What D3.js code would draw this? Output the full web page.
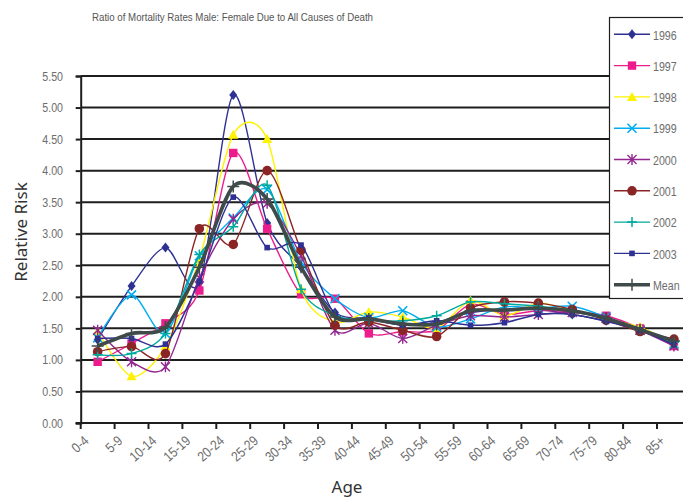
<!DOCTYPE html>
<html>
<head>
<meta charset="utf-8">
<script src="https://cdn.jsdelivr.net/npm/d3@7"></script>
<style>
  body { margin: 0; background: #fff; }
  svg { display: block; }
  .lbl { font-family: "Liberation Sans", sans-serif; font-size: 13px; fill: #6d6d6d; }
  .xlbl { font-family: "Liberation Sans", sans-serif; font-size: 14px; fill: #6d6d6d; }
</style>
</head>
<body>
<div id="chart"></div>
<script>
// age groups on the x axis
var ages = ["0-4", "5-9", "10-14", "15-19", "20-24", "25-29", "30-34", "35-39", "40-44",
            "45-49", "50-54", "55-59", "60-64", "65-69", "70-74", "75-79", "80-84", "85+"];

// ratio male:female
var r1996 = [1.32, 2.17, 2.78, 2.22, 5.20, 3.17, 2.47, 1.75, 1.65, 1.55, 1.60, 1.75, 1.80, 1.80, 1.72, 1.62, 1.48, 1.26];
var r1997 = [0.97, 1.26, 1.58, 2.10, 4.28, 3.08, 2.04, 1.97, 1.42, 1.45, 1.47, 1.88, 1.72, 1.78, 1.76, 1.70, 1.50, 1.22];
var r1998 = [1.45, 0.74, 1.22, 2.60, 4.57, 4.50, 2.12, 1.60, 1.76, 1.68, 1.50, 1.94, 1.70, 1.90, 1.78, 1.65, 1.52, 1.25];
var r1999 = [1.35, 2.03, 1.42, 2.65, 3.25, 3.70, 2.55, 1.97, 1.67, 1.78, 1.52, 1.65, 1.84, 1.82, 1.85, 1.68, 1.47, 1.25];
var r2000 = [1.47, 0.97, 0.89, 2.30, 3.23, 3.48, 2.65, 1.47, 1.58, 1.34, 1.55, 1.70, 1.68, 1.72, 1.75, 1.66, 1.47, 1.22];
var r2001 = [1.13, 1.21, 1.10, 3.08, 2.83, 4.00, 2.74, 1.55, 1.60, 1.47, 1.37, 1.82, 1.92, 1.90, 1.80, 1.63, 1.45, 1.33];
var r2002 = [1.08, 1.10, 1.42, 2.67, 3.11, 3.77, 2.12, 1.70, 1.63, 1.62, 1.70, 1.92, 1.89, 1.85, 1.78, 1.65, 1.48, 1.28];
var r2003 = [1.34, 1.34, 1.25, 2.25, 3.58, 2.78, 2.82, 1.72, 1.67, 1.55, 1.62, 1.55, 1.59, 1.72, 1.72, 1.61, 1.47, 1.24];
var rMean = [1.22, 1.42, 1.52, 2.47, 3.75, 3.55, 2.47, 1.68, 1.65, 1.57, 1.57, 1.78, 1.79, 1.82, 1.78, 1.66, 1.48, 1.30];

var seriesNames = ["1996", "1997", "1998", "1999", "2000", "2001", "2002", "2003", "Mean"];
var yTicks = [0, 0.5, 1, 1.5, 2, 2.5, 3, 3.5, 4, 4.5, 5, 5.5];

var width = 683, height = 497;
var plotLeft = 80.7, plotBottom = 423, plotTop = 76;
var step = 33.9;
var squeeze = 0.82; // condensed look for the small labels

// styles per series
var styles = [
  {color: "#2e3192", marker: "diamond", size: 5, lw: 1.4},
  {color: "#ec1c8c", marker: "square", size: 4.2, lw: 1.4},
  {color: "#fff200", marker: "triangle", size: 5, lw: 1.4},
  {color: "#00aeef", marker: "x", size: 4.5, lw: 1.4},
  {color: "#92278f", marker: "asterisk", size: 4.5, lw: 1.4},
  {color: "#8b2525", marker: "circle", size: 4.8, lw: 1.4},
  {color: "#00a99d", marker: "plus", size: 5, lw: 1.4},
  {color: "#2e3192", marker: "smallsquare", size: 2.8, lw: 1.4},
  {color: "#3f4a4a", marker: "plus", size: 6, lw: 3.6}
];

var data = [r1996, r1997, r1998, r1999, r2000, r2001, r2002, r2003, rMean];

var svg = d3.select("#chart").append("svg")
  .attr("width", width)
  .attr("height", height);

var x = d3.scaleBand()
  .domain(ages)
  .range([plotLeft, plotLeft + step * ages.length]);

var y = d3.scaleLinear()
  .domain([0, 5.5])
  .range([plotBottom, plotTop]);

// gridlines
svg.append("g")
  .selectAll("line")
  .data(yTicks.slice(1))
  .enter().append("line")
  .attr("x1", plotLeft)
  .attr("x2", width)
  .attr("y1", function(d) { return y(d); })
  .attr("y2", function(d) { return y(d); })
  .attr("stroke", "#1e1e1e")
  .attr("stroke-width", 2);

// y axis
var yAxis = svg.append("g")
  .attr("transform", "translate(" + plotLeft + ",0)")
  .call(d3.axisLeft(y).tickValues(yTicks).tickFormat("").tickSize(5));
yAxis.select(".domain").attr("stroke", "#1e1e1e").attr("stroke-width", 2);
yAxis.selectAll(".tick line").attr("stroke", "#1e1e1e").attr("stroke-width", 2);

svg.append("g")
  .selectAll("text")
  .data(yTicks)
  .enter().append("text")
  .attr("class", "lbl")
  .attr("text-anchor", "end")
  .attr("dy", "0.35em")
  .attr("transform", function(d) { return "translate(63," + y(d) + ") scale(" + squeeze + ",1)"; })
  .text(d3.format(".2f"));

// x axis: ticks at category boundaries
var xAxis = svg.append("g");
xAxis.append("line")
  .attr("x1", plotLeft - 5).attr("x2", width)
  .attr("y1", plotBottom).attr("y2", plotBottom)
  .attr("stroke", "#1e1e1e").attr("stroke-width", 2);
xAxis.selectAll("line.tk")
  .data(ages)
  .enter().append("line")
  .attr("class", "tk")
  .attr("x1", function(d) { return x(d); })
  .attr("x2", function(d) { return x(d); })
  .attr("y1", plotBottom).attr("y2", plotBottom + 6)
  .attr("stroke", "#1e1e1e").attr("stroke-width", 2);
xAxis.selectAll("text")
  .data(ages)
  .enter().append("text")
  .attr("class", "xlbl")
  .attr("text-anchor", "end")
  .attr("transform", function(d) {
    return "translate(" + (x(d) + x.bandwidth() / 2 - 8) + "," + 442 + ") rotate(-42) scale(0.85,1)";
  })
  .text(function(d) { return d; });

// marker drawing
function drawMarker(g, type, color, s) {
  if (type == "diamond") {
    g.append("path").attr("d", "M0," + (-s) + "L" + (s * 0.8) + ",0L0," + s + "L" + (-s * 0.8) + ",0Z").attr("fill", color);
  } else if (type == "square" || type == "smallsquare") {
    g.append("rect").attr("x", -s).attr("y", -s).attr("width", 2 * s).attr("height", 2 * s).attr("fill", color);
  } else if (type == "triangle") {
    g.append("path").attr("d", "M0," + (-s) + "L" + s + "," + (s * 0.8) + "L" + (-s) + "," + (s * 0.8) + "Z").attr("fill", color);
  } else if (type == "circle") {
    g.append("circle").attr("r", s).attr("fill", color);
  } else if (type == "x") {
    g.append("path").attr("d", "M" + (-s) + "," + (-s) + "L" + s + "," + s + "M" + (-s) + "," + s + "L" + s + "," + (-s))
      .attr("stroke", color).attr("stroke-width", 1.6).attr("fill", "none");
  } else if (type == "asterisk") {
    g.append("path").attr("d", "M" + (-s) + "," + (-s) + "L" + s + "," + s + "M" + (-s) + "," + s + "L" + s + "," + (-s) + "M0," + (-s * 1.2) + "L0," + (s * 1.2))
      .attr("stroke", color).attr("stroke-width", 1.4).attr("fill", "none");
  } else if (type == "plus") {
    g.append("path").attr("d", "M" + (-s) + ",0L" + s + ",0M0," + (-s) + "L0," + s)
      .attr("stroke", color).attr("stroke-width", 1.5).attr("fill", "none");
  }
}

var line = d3.line()
  .x(function(d, i) { return x(ages[i]) + x.bandwidth() / 2; })
  .y(function(d) { return y(d); })
  .curve(d3.curveCardinal.tension(0.15));

// series
data.forEach(function(values, k) {
  var st = styles[k];
  var g = svg.append("g");
  g.append("path")
    .attr("d", line(values))
    .attr("fill", "none")
    .attr("stroke", st.color)
    .attr("stroke-width", st.lw);
  values.forEach(function(v, i) {
    var m = g.append("g")
      .attr("transform", "translate(" + (x(ages[i]) + x.bandwidth() / 2) + "," + y(v) + ")");
    drawMarker(m, st.marker, st.color, st.size);
  });
});

// legend
var legend = svg.append("g");
legend.append("rect")
  .attr("x", 609.5).attr("y", 17.5)
  .attr("width", 100).attr("height", 281)
  .attr("fill", "#fff").attr("stroke", "#1e1e1e").attr("stroke-width", 1.2);
seriesNames.forEach(function(name, k) {
  var st = styles[k];
  var ly = 34.3 + k * 31.3;
  var item = legend.append("g").attr("transform", "translate(0," + ly + ")");
  item.append("line")
    .attr("x1", 614).attr("x2", 650)
    .attr("y1", 0).attr("y2", 0)
    .attr("stroke", st.color).attr("stroke-width", st.lw);
  var m = item.append("g").attr("transform", "translate(632,0)");
  drawMarker(m, st.marker, st.color, st.size);
  item.append("text")
    .attr("class", "lbl")
    .attr("transform", "translate(653,0) scale(" + squeeze + ",1)")
    .attr("dy", "0.4em")
    .text(name);
});

// titles
svg.append("text")
  .attr("x", 92).attr("y", 21)
  .attr("textLength", 281)
  .attr("lengthAdjust", "spacingAndGlyphs")
  .style("font-family", "'Liberation Sans', sans-serif")
  .style("font-size", "11px")
  .style("fill", "#555")
  .text("Ratio of Mortality Rates Male: Female Due to All Causes of Death");

svg.append("text")
  .attr("transform", "translate(27,232) rotate(-90)")
  .attr("text-anchor", "middle")
  .style("font-family", "'Noto Sans', sans-serif")
  .style("font-size", "17px")
  .style("fill", "#333")
  .text("Relative Risk");

svg.append("text")
  .attr("x", 347).attr("y", 493)
  .attr("text-anchor", "middle")
  .style("font-family", "'Noto Sans', sans-serif")
  .style("font-size", "17px")
  .style("fill", "#333")
  .text("Age");
</script>
</body>
</html>
